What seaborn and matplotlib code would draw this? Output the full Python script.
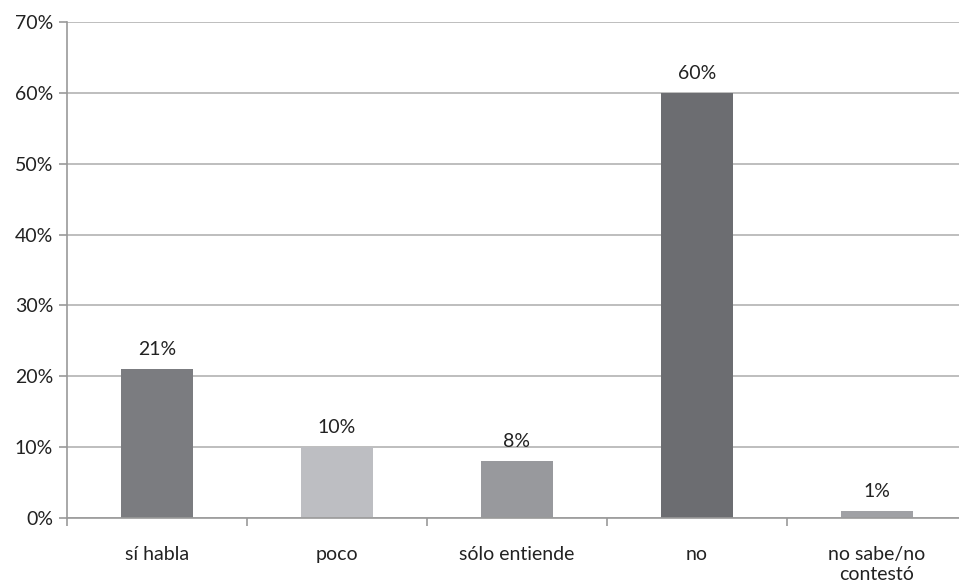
import numpy as np
import pandas as pd
import seaborn as sns
import matplotlib.pyplot as plt

categorias = ["sí habla", "poco", "sólo entiende", "no", "no sabe/no\ncontestó"]
porcentajes = [21, 10, 8, 60, 1]
colores = ["#7b7c80", "#bdbec2", "#98999d", "#6c6d71", "#a0a1a5"]

df = pd.DataFrame({"cat": categorias, "pct": porcentajes})

sns.set_style("white")
plt.rcParams["font.family"] = ["Lato", "DejaVu Sans"]

fig = plt.figure(figsize=(9.59, 5.87), dpi=100)
ax = fig.add_axes([67 / 959, 1 - 518 / 587, 900 / 959, (518 - 22) / 587])

sns.barplot(data=df, x="cat", y="pct", hue="cat", palette=colores,
            width=0.4, legend=False, ax=ax, saturation=1, linewidth=0)

ax.set_ylim(0, 70)
ax.set_xlim(-0.5, len(categorias) - 0.5)
ax.set_yticks(np.arange(0, 71, 10))
ax.set_yticklabels([f"{v}%" for v in range(0, 71, 10)], fontsize=14, color="#222222")
ax.yaxis.grid(True, color="#b3b3b3", linewidth=1.2)
ax.set_axisbelow(True)

# ticks between categories, labels at centres
ax.set_xticks(np.arange(-0.5, len(categorias), 1))
ax.set_xticklabels([""] * (len(categorias) + 1))
ax.set_xticks(np.arange(len(categorias)), minor=True)
ax.set_xticklabels(categorias, minor=True, fontsize=14, color="#222222")
ax.tick_params(axis="x", which="major", length=6, color="#999999", width=1.2, direction="out", bottom=True)
ax.tick_params(axis="x", which="minor", length=0, pad=20)
ax.tick_params(axis="y", length=6, color="#999999", width=1.2, direction="out", left=True, pad=4)

for s in ["top", "right"]:
    ax.spines[s].set_visible(False)
ax.spines["left"].set_color("#999999")
ax.spines["bottom"].set_color("#999999")
ax.spines["left"].set_linewidth(1.2)
ax.spines["bottom"].set_linewidth(1.2)
ax.set_xlabel("")
ax.set_ylabel("")

for i, v in enumerate(porcentajes):
    ax.annotate(f"{v}%", (i, v), xytext=(0, 8), textcoords="offset points",
                ha="center", va="bottom", fontsize=14, color="#222222")

fig.savefig("out.png", dpi=100)
